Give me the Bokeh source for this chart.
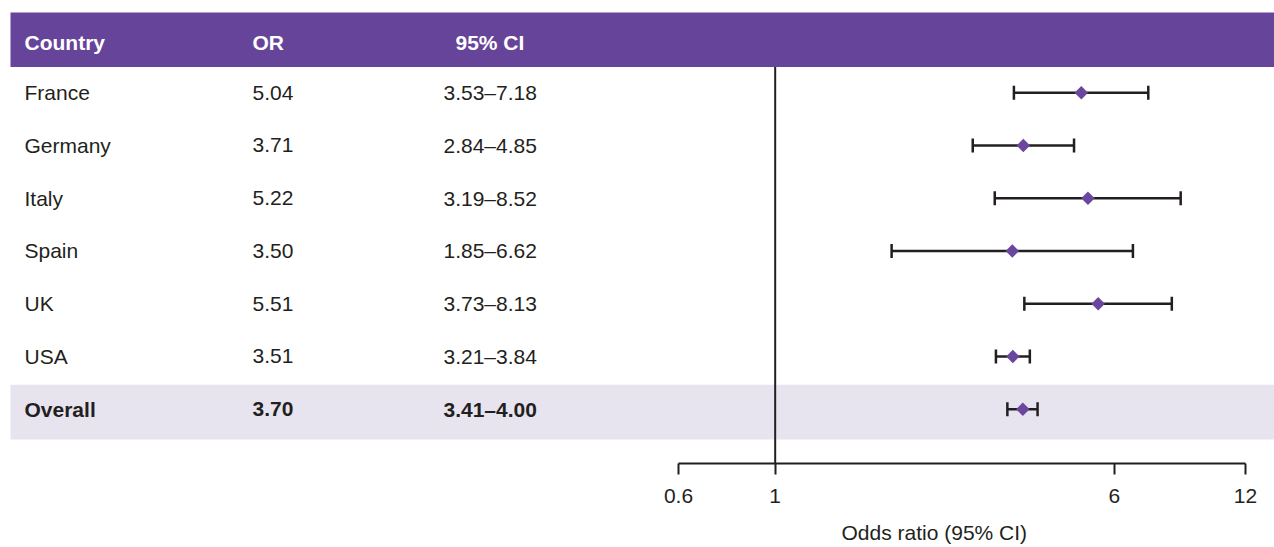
import math

from bokeh.plotting import figure
from bokeh.models import (Range1d, LogScale, LogAxis, FixedTicker, Title,
                          ColumnDataSource, CustomJSTickFormatter)
from bokeh.core.properties import value
from bokeh.embed import file_html
from bokeh.resources import INLINE

# ---- data -------------------------------------------------------------
countries = ["France", "Germany", "Italy", "Spain", "UK", "USA", "Overall"]
odds_ratio = [5.04, 3.71, 5.22, 3.50, 5.51, 3.51, 3.70]
ci_low = [3.53, 2.84, 3.19, 1.85, 3.73, 3.21, 3.41]
ci_high = [7.18, 4.85, 8.52, 6.62, 8.13, 3.84, 4.00]
axis_ticks = [0.6, 1, 6, 12]

# ---- layout constants (screen-like units, y grows downward) ------------
W, FRAME_H = 1274, 463
ROW0, ROW_STEP = 92.2, 52.75
HEADER_TOP, HEADER_BOT, HEADER_TEXT_Y = 12, 66.5, 42.3
COL_COUNTRY, COL_OR, COL_CI, COL_CI_HEAD = 24, 252, 443, 455
AXIS_PX_LEFT, AXIS_PX_RIGHT = 678, 1245  # where 0.6 and 12 sit

FONT = "Liberation Sans"
FSIZE = "21px"
INK = "#231f20"
PURPLE = "#66449a"
DIAMOND = "#6a479d"
SHADE = "#e7e4ef"

# log range spanning the whole frame so that 0.6 and 12 land on the axis ends
px_per_dec = (AXIS_PX_RIGHT - AXIS_PX_LEFT) / math.log10(axis_ticks[-1] / axis_ticks[0])
or_start = axis_ticks[0] * 10 ** (-AXIS_PX_LEFT / px_per_dec)
or_end = axis_ticks[-1] * 10 ** ((W - AXIS_PX_RIGHT) / px_per_dec)

p = figure(frame_width=W, frame_height=FRAME_H,
           x_range=Range1d(0, W), y_range=Range1d(FRAME_H, 0),
           output_backend="svg", toolbar_location=None,
           min_border_left=0, min_border_right=0, min_border_top=0,
           min_border_bottom=0, outline_line_color=None,
           background_fill_color="white", border_fill_color="white")
p.grid.visible = False
p.below.clear()
p.left.clear()

p.extra_x_ranges = {"or": Range1d(or_start, or_end)}
p.extra_x_scales = {"or": LogScale()}

n = len(countries)
row_y = [ROW0 + ROW_STEP * i for i in range(n)]

# header band and shaded overall row
p.quad(left=10, right=W, top=HEADER_TOP, bottom=HEADER_BOT,
       fill_color=PURPLE, line_color=None)
p.quad(left=10, right=W, top=row_y[-1] - 24.5, bottom=row_y[-1] + 30.2,
       fill_color=SHADE, line_color=None)

# header texts
p.text(x=[COL_COUNTRY, COL_OR, COL_CI_HEAD], y=[HEADER_TEXT_Y] * 3,
       text=["Country", "OR", "95% CI"], text_color="white",
       text_font=value(FONT), text_font_size=value(FSIZE),
       text_font_style="bold", text_baseline="middle", text_align="left")

# table body
or_txt = [f"{v:.2f}" for v in odds_ratio]
ci_txt = [f"{a:.2f}\u2013{b:.2f}" for a, b in zip(ci_low, ci_high)]
styles = ["normal"] * (n - 1) + ["bold"]
tab = ColumnDataSource(dict(y=row_y, c=countries, o=or_txt, ci=ci_txt, s=styles))
for x, col in [(COL_COUNTRY, "c"), (COL_OR, "o"), (COL_CI, "ci")]:
    p.text(x=x, y="y", text=col, source=tab, text_color=INK,
           text_font=value(FONT), text_font_size=value(FSIZE),
           text_font_style="s", text_baseline="middle", text_align="left")

# reference line at OR = 1
p.segment(x0=[1], x1=[1], y0=[HEADER_BOT], y1=[FRAME_H], x_range_name="or",
          line_color=INK, line_width=2)

# confidence intervals and point estimates
src = ColumnDataSource(dict(y=row_y, est=odds_ratio, lo=ci_low, hi=ci_high))
p.segment(x0="lo", x1="hi", y0="y", y1="y", source=src, x_range_name="or",
          line_color=INK, line_width=2.5)
p.scatter(x="lo", y="y", source=src, x_range_name="or", marker="dash",
          angle=math.pi / 2, size=14, line_color=INK, line_width=2.5)
p.scatter(x="hi", y="y", source=src, x_range_name="or", marker="dash",
          angle=math.pi / 2, size=14, line_color=INK, line_width=2.5)
p.scatter(x="est", y="y", source=src, x_range_name="or", marker="square",
          angle=math.pi / 4, size=9.5, fill_color=DIAMOND, line_color=None)

# log axis limited to the 0.6-12 span
ax = LogAxis(x_range_name="or", bounds=(axis_ticks[0], axis_ticks[-1]),
             ticker=FixedTicker(ticks=axis_ticks, minor_ticks=[]),
             formatter=CustomJSTickFormatter(code="return String(tick);"),
             axis_line_color=INK, axis_line_width=2,
             major_tick_line_color=INK, major_tick_line_width=2,
             major_tick_in=0, major_tick_out=11, minor_tick_line_color=None,
             major_label_standoff=14, major_label_text_font=FONT,
             major_label_text_font_size=FSIZE, major_label_text_color=INK)
p.add_layout(ax, "below")

title = Title(text="Odds ratio (95% CI)", align="left", offset=841,
              text_font=FONT, text_font_size=FSIZE, text_font_style="normal",
              text_color=INK, standoff=27)
p.add_layout(title, "below")

open("out.html", "w").write(file_html(p, INLINE))
